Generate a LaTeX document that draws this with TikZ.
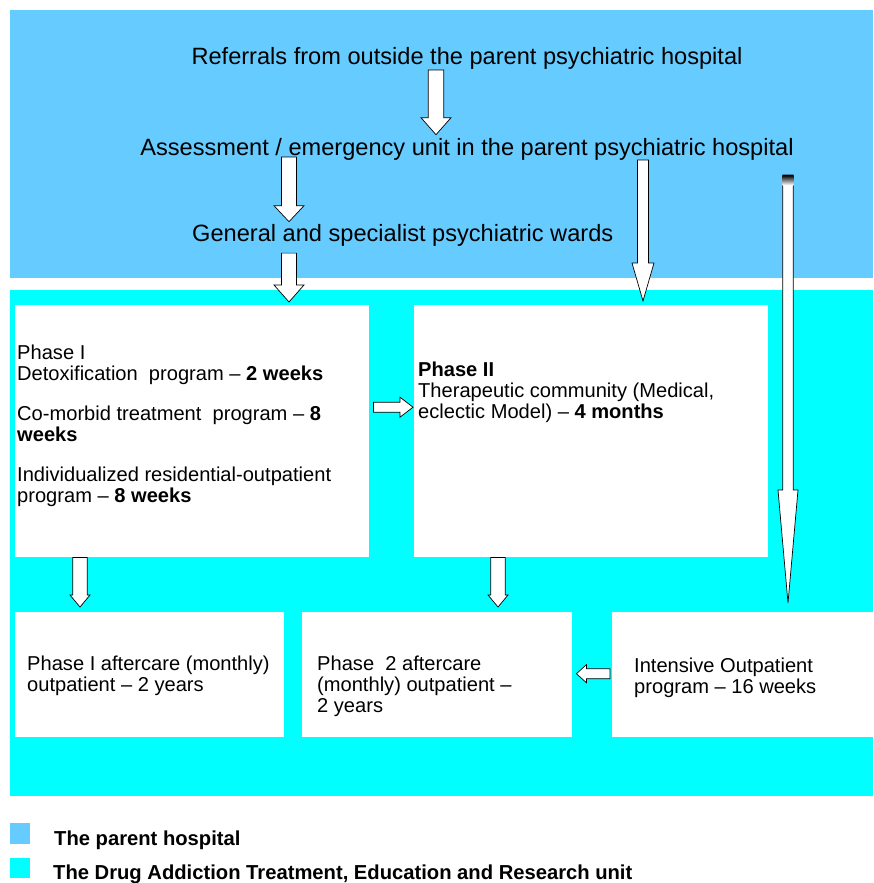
\documentclass[tikz,border=0pt]{standalone}
\usepackage{fontspec}
\setmainfont{Liberation Sans}
\usetikzlibrary{calc,positioning}
\definecolor{hospblue}{RGB}{102,204,255}
\definecolor{unitcyan}{RGB}{0,255,255}
\tikzstyle{region}=[rectangle, draw=none, inner sep=0pt, anchor=north west]
\tikzstyle{whitebox}=[rectangle, fill=white, draw=none, inner sep=0pt, anchor=north west]
\tikzstyle{toptext}=[inner sep=0pt, font=\fontsize{23.6}{26}\selectfont]
\tikzstyle{boxtext}=[inner sep=0pt, anchor=base west, align=left, font=\fontsize{20.1}{21}\selectfont]
\tikzstyle{keytext}=[inner sep=0pt, anchor=base west, font=\fontsize{20.2}{22}\selectfont\bfseries]
% hollow block arrow: shaft half width, head half width, head length
\tikzset{hollow/.style n args={3}{draw=black, fill=white, line width=0.7pt, line join=miter,
  to path={($(\tikztostart)!#1!90:(\tikztotarget)$)
    -- ($(\tikztotarget)!#3!(\tikztostart)!#1!90:(\tikztotarget)$)
    -- ($(\tikztotarget)!#3!(\tikztostart)!#2!90:(\tikztotarget)$)
    -- (\tikztotarget)
    -- ($(\tikztotarget)!#3!(\tikztostart)!#2!-90:(\tikztotarget)$)
    -- ($(\tikztotarget)!#3!(\tikztostart)!#1!-90:(\tikztotarget)$)
    -- ($(\tikztostart)!#1!-90:(\tikztotarget)$) -- cycle}}}

\begin{document}
\begin{tikzpicture}[x=1pt, y=-1pt]
\path[use as bounding box, fill=white] (0,0) rectangle (873,883);

% areas
\node[region, fill=hospblue, minimum width=863pt, minimum height=268pt] (hosp) at (10,10) {};
\node[region, fill=unitcyan, minimum width=863pt, minimum height=506pt] (unit) at (10,290) {};

% parent hospital
\node[toptext, anchor=base] (refer) at (467,65) {Referrals from outside the parent psychiatric hospital};
\node[toptext, anchor=base] (assess) at (467,155) {Assessment / emergency unit in the parent psychiatric hospital};
\node[toptext, anchor=base west] (wards) at (192,241) {General and specialist psychiatric wards};

% unit boxes
\node[whitebox, minimum width=354pt, minimum height=252pt] (ph1) at (15,305) {};
\node[whitebox, minimum width=354pt, minimum height=252pt] (ph2) at (414,305) {};
\node[whitebox, minimum width=269pt, minimum height=125pt] (ppa) at (15,612) {};
\node[whitebox, minimum width=270pt, minimum height=125pt] (ppb) at (302,612) {};
\node[whitebox, minimum width=261pt, minimum height=125pt] (ipc) at (612,612) {};

% texts sit on the baseline of their last line
\node[boxtext] (ph1txt) at (17,502) {Phase I\\ Detoxification\ \ program -- \textbf{2 weeks}\\[19pt]
  Co-morbid treatment\ \ program -- \textbf{8}\\ \textbf{weeks}\\[19pt]
  Individualized residential-outpatient\\ program -- \textbf{8 weeks}};
\node[boxtext] (ph2txt) at (418,418) {\textbf{Phase II}\\ Therapeutic community (Medical,\\ eclectic Model) -- \textbf{4 months}};
\node[boxtext] (ppatxt) at (27,691) {Phase I aftercare (monthly)\\ outpatient -- 2 years};
\node[boxtext] (ppbtxt) at (317,712) {Phase\ \ 2 aftercare\\ (monthly) outpatient --\\ 2 years};
\node[boxtext] (ipctxt) at (634,693) {Intensive Outpatient\\ program -- 16 weeks};

% legend
\node[region, fill=hospblue, minimum width=20pt, minimum height=21pt] (keyhosp) at (10,823) {};
\node[region, fill=unitcyan, minimum width=20pt, minimum height=20pt] (keyunit) at (10,858) {};
\node[keytext] (keyhosptxt) at (54,845) {The parent hospital};
\node[keytext] (keyunittxt) at (53,879) {The Drug Addiction Treatment, Education and Research unit};

% arrow columns
\coordinate (colA) at (289,0);
\coordinate (colB) at (436,0);
\coordinate (colC) at (643,0);
\coordinate (colD) at (788,0);
\coordinate (colE) at (80,0);
\coordinate (colF) at (498,0);

\draw[hollow={7.8pt}{15pt}{17pt}] (refer.south -| colB) to ($(assess.north -| colB)+(0,-3)$);
\draw[hollow={7.5pt}{15pt}{16pt}] ($(assess.south -| colA)+(0,-3)$) to ($(wards.north -| colA)+(0,-2)$);
\draw[hollow={7.5pt}{15pt}{17pt}] ($(wards.south -| colA)+(0,7)$) to ($(ph1.north -| colA)+(0,-3)$);
\draw[hollow={5.5pt}{11pt}{38pt}] (assess.south -| colC) to ($(ph2.north -| colC)+(0,-4)$);
\draw[hollow={5.3pt}{10pt}{113pt}] ($(assess.south -| colD)+(0,15)$) to ($(ipc.north -| colD)+(0,-9)$);
\shade[top color=black, bottom color=white] ($(assess.south -| colD)+(-5.3,15)$) rectangle +(10.6,10);
\draw[hollow={5pt}{10pt}{13pt}] ($(ph1.east)+(4,-24)$) to ($(ph2.west)+(-1,-24)$);
\draw[hollow={7.3pt}{10pt}{12pt}] (ph1.south -| colE) to ($(ppa.north -| colE)+(0,-5)$);
\draw[hollow={7.3pt}{10pt}{12pt}] (ph2.south -| colF) to ($(ppb.north -| colF)+(0,-5)$);
\draw[hollow={5pt}{9pt}{10pt}] ($(ipc.west)+(-2,-1)$) to ($(ppb.east)+(4,-1)$);

\end{tikzpicture}
\end{document}
